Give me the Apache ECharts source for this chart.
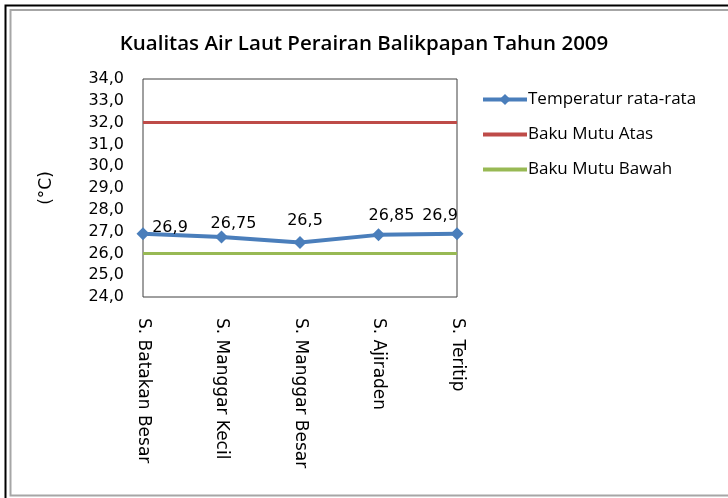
<!DOCTYPE html>
<html><head><meta charset="utf-8">
<script src="https://cdn.jsdelivr.net/npm/echarts@6/dist/echarts.min.js"></script>
<style>html,body{margin:0;padding:0;background:#fff}#c{width:728px;height:498px}</style>
</head><body><div id="c"></div>
<script>
var categories = ['S. Batakan Besar', 'S. Manggar Kecil', 'S. Manggar Besar', 'S. Ajiraden', 'S. Teritip'];
var temperatur = [26.9, 26.75, 26.5, 26.85, 26.9];
var bakuAtas = [32, 32, 32, 32, 32];
var bakuBawah = [26, 26, 26, 26, 26];
var yMin = 24, yMax = 34, yStep = 1;

var labelOffsets = [[27, -6], [12, -13], [5, -22], [13, -19], [-17, -18]];
var fmt = function (v) { return String(v).replace('.', ','); };

var chart = echarts.init(document.getElementById('c'));
chart.setOption({
  animation: false,
  title: {
    text: 'Kualitas Air Laut Perairan Balikpapan Tahun 2009',
    left: 'center', top: 29,
    textStyle: { fontFamily: 'Open Sans', fontWeight: 600, fontSize: 20.5, color: '#000' }
  },
  legend: {
    orient: 'vertical', left: 481, top: 91, itemGap: 18, padding: 0,
    itemWidth: 44, itemHeight: 14,
    textStyle: { fontFamily: 'Open Sans', fontSize: 17, color: '#000', padding: [0, 0, 0, -4] },
    data: [
      { name: 'Temperatur rata-rata', lineStyle: { width: 4 } },
      { name: 'Baku Mutu Atas', itemStyle: { opacity: 0 }, lineStyle: { width: 4 } },
      { name: 'Baku Mutu Bawah', itemStyle: { opacity: 0 }, lineStyle: { width: 4 } }
    ]
  },
  grid: { left: 143, top: 79, right: 271, bottom: 201, show: true, borderColor: '#404040', borderWidth: 1 },
  xAxis: {
    type: 'category', data: categories, boundaryGap: false,
    axisLine: { show: false }, axisTick: { show: false },
    axisLabel: { rotate: -90, margin: 21, fontFamily: 'DejaVu Sans', fontSize: 17, color: '#000', interval: 0 }
  },
  yAxis: {
    type: 'value', min: yMin, max: yMax, interval: yStep,
    name: '(°C)', nameLocation: 'middle', nameGap: 88, nameRotate: 90,
    nameTextStyle: { fontFamily: 'DejaVu Sans', fontSize: 17, color: '#000' },
    splitLine: { show: false }, axisLine: { show: false }, axisTick: { show: false },
    axisLabel: { margin: 19, fontFamily: 'DejaVu Sans', fontSize: 16, color: '#000',
      formatter: function (v) { return v.toFixed(1).replace('.', ','); } }
  },
  graphic: [
    { type: 'polyline', shape: { points: [[5.5, 498], [5.5, 5.5], [728, 5.5]] }, style: { stroke: '#000', lineWidth: 2, fill: null } },
    { type: 'polyline', shape: { points: [[728, 10], [10.5, 10], [10.5, 495.5], [728, 495.5]] }, style: { stroke: '#a6a6a6', lineWidth: 2, fill: null } }
  ],
  series: [
    {
      name: 'Baku Mutu Atas', type: 'line', data: bakuAtas, symbol: 'none',
      lineStyle: { color: '#be4b48', width: 3 }, itemStyle: { color: '#be4b48' }
    },
    {
      name: 'Baku Mutu Bawah', type: 'line', data: bakuBawah, symbol: 'none',
      lineStyle: { color: '#98b954', width: 3 }, itemStyle: { color: '#98b954' }
    },
    {
      name: 'Temperatur rata-rata', type: 'line', z: 5,
      data: temperatur.map(function (v, i) {
        return { value: v, label: { offset: labelOffsets[i] } };
      }),
      symbol: 'diamond', symbolSize: 13,
      lineStyle: { color: '#4a7ebb', width: 4 }, itemStyle: { color: '#4a7ebb' },
      label: { show: true, position: 'inside', fontFamily: 'DejaVu Sans', fontSize: 16, color: '#000',
        formatter: function (p) { return fmt(p.value); } }
    }
  ]
});
</script></body></html>
